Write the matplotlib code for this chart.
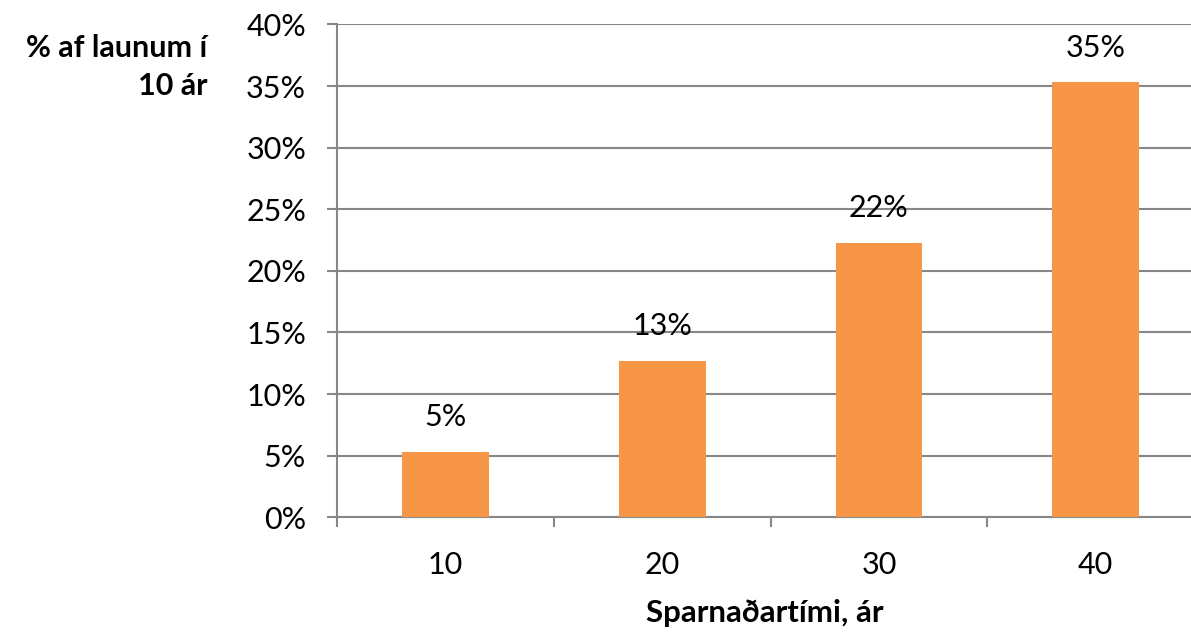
import matplotlib
matplotlib.use("Agg")
import matplotlib.pyplot as plt

categories = ["10", "20", "30", "40"]
values = [5.3, 12.7, 22.3, 35.3]
labels = ["5%", "13%", "22%", "35%"]
yticks = [0, 5, 10, 15, 20, 25, 30, 35, 40]
ytick_labels = ["0%", "5%", "10%", "15%", "20%", "25%", "30%", "35%", "40%"]

plt.rcParams['font.family'] = ['Lato', 'DejaVu Sans']
grid_col = "#878787"
fs = 22

fig = plt.figure(figsize=(11.91, 6.32), dpi=100)
ax = fig.add_axes([337.3/1191, (632-517.3)/632, (1204-337.3)/1191, (517.3-24.4)/632])

x = list(range(len(categories)))
bars = ax.bar(x, values, width=0.40, color="#F79646", zorder=3)
for xi, v, lab in zip(x, values, labels):
    ax.annotate(lab, (xi, v), xytext=(0, 25), textcoords="offset points",
                ha="center", va="center", fontsize=fs, color="black")

ax.set_xlim(-0.5, 3.5)
ax.set_ylim(0, 40)
ax.set_yticks(yticks)
ax.set_yticklabels(ytick_labels, fontsize=fs)
ax.set_xticks([-0.5, 0.5, 1.5, 2.5, 3.5])
ax.set_xticklabels([])
ax.set_xticks(x, minor=True)
ax.set_xticklabels(categories, minor=True, fontsize=fs)
ax.tick_params(axis='x', which='minor', length=0, pad=24)
ax.tick_params(axis='x', which='major', length=7.5, width=1.5, color=grid_col, direction='out')
ax.tick_params(axis='y', length=7.5, width=1.5, color=grid_col, direction='out', pad=15)

ax.grid(axis='y', color=grid_col, linewidth=1.5, zorder=0)
for s in ["top", "right"]:
    ax.spines[s].set_visible(False)
ax.spines["left"].set_color(grid_col)
ax.spines["left"].set_linewidth(1.5)
ax.spines["bottom"].set_color(grid_col)
ax.spines["bottom"].set_linewidth(1.5)

fig.text(207/1191, 1 - 34/632, "% af launum í\n10 ár", ha="right", va="top",
         fontsize=fs, fontweight="bold", linespacing=1.45, multialignment="right")
fig.text(765/1191, 1 - 613/632, "Sparnaðartími, ár", ha="center", va="center",
         fontsize=22.5, fontweight="bold")

fig.savefig("out.png", dpi=100)
